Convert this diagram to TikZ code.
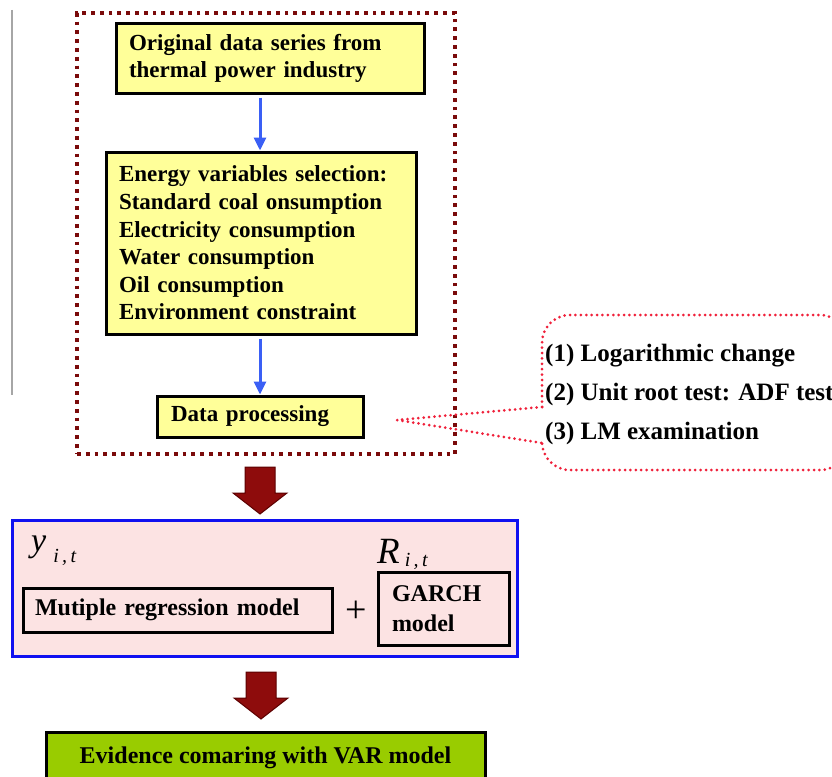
\documentclass[tikz,border=0pt]{standalone}
\usepackage{fontspec}
\setmainfont{Liberation Serif}
\usetikzlibrary{arrows.meta,calc}
\definecolor{boxyellow}{HTML}{FFFF99}
\definecolor{framered}{HTML}{7A0A0A}
\definecolor{calloutred}{HTML}{F0203A}
\definecolor{flowblue}{HTML}{3A5FF5}
\definecolor{pinkfill}{HTML}{FCE3E3}
\definecolor{modelblue}{HTML}{1010F0}
\definecolor{greenfill}{HTML}{99CC00}
\definecolor{blockred}{HTML}{8E0C0C}
\definecolor{blockedge}{HTML}{5C0000}
\newcommand{\blockarr}[1]{\filldraw[blockarrow] (#1) ++(-15,0) -- ++(30,0) -- ++(0,26) -- ++(12,0) -- ++(-27,21) -- ++(-27,-21) -- ++(12,0) -- cycle;}
\begin{document}
\begin{tikzpicture}[x=1pt,y=-1pt,
  ybox/.style={draw=black, line width=3pt, fill=boxyellow, font=\bfseries\fontsize{23}{27.6}\selectfont, align=left, inner ysep=0pt},
  mbox/.style={draw=black, line width=3pt, font=\bfseries\fontsize{24}{30}\selectfont, align=left, inner ysep=0pt},
  frame/.style={draw=framered, line width=3.8pt, dash pattern=on 3.8pt off 5pt, inner sep=0pt},
  callout/.style={draw=calloutred, line width=3pt, line cap=round, dash pattern=on 0pt off 5.4pt},
  flow/.style={draw=flowblue, line width=3pt, -{Triangle[length=13pt,width=12pt]}},
  blockarrow/.style={fill=blockred, draw=blockedge, line width=1pt},
  ctext/.style={font=\bfseries\fontsize{25}{39}\selectfont, align=left, inner sep=0pt}
]
\clip (0,0) rectangle (832,776);
\fill[white] (0,0) rectangle (832,776);
% thin grey line at the left
\draw[gray!70, line width=1.4pt] (12,10) -- (12,395);
% dotted frame
\node[frame, minimum width=378pt, minimum height=441pt] (frame) at (266,233.5) {};
% boxes
\node[ybox, text width=282pt, inner xsep=13pt, minimum height=69pt] (b1) at (270,58.5)
  {Original data series from\\thermal power industry};
\node[ybox, text width=284pt, inner xsep=13pt, minimum height=182pt] (b2) at (261,243)
  {Energy variables selection:\\Standard coal onsumption\\Electricity consumption\\Water consumption\\Oil consumption\\Environment constraint};
\node[ybox, text width=178pt, inner xsep=14pt, minimum height=41pt] (b3) at (260,416.5)
  {Data processing};
\draw[flow] ([yshift=-3pt]b1.south -| b3.north) -- (b2.north -| b3.north);
\draw[flow] ([yshift=-3pt]b2.south -| b3.north) -- (b3.north);
% callout
\coordinate (tip) at (397,420);
\draw[callout, rounded corners=28pt] (542,407) -- (542,315) -- (848,315) -- (848,470) -- (542,470) -- (542,443);
\draw[callout] (542,407) -- (tip) -- (542,443);
\node[ctext, anchor=west] (steps) at (545,394)
  {(1) Logarithmic change\\(2) Unit root test: ADF test\\(3) LM examination};
% first block arrow
\coordinate (a1) at (260,467);
\blockarr{a1}
% model box
\node[draw=modelblue, line width=3pt, fill=pinkfill, minimum width=505pt, minimum height=136pt, inner sep=0pt] (model) at (264.5,588) {};
\node[anchor=base west, inner sep=0pt] (ylab) at (31,551)
  {\fontsize{34}{34}\selectfont\itshape y\hspace{7pt}\raisebox{-11pt}{\fontsize{20}{20}\selectfont\itshape i\,,\,t}};
\node[anchor=base west, inner sep=0pt] (rlab) at (377,563)
  {\fontsize{37}{37}\selectfont\itshape R\hspace{5pt}\raisebox{-3pt}{\fontsize{20}{20}\selectfont\itshape i\,,\,t}};
\node[mbox, text width=285pt, inner xsep=12pt, minimum height=44pt] (mr) at (177.5,610)
  {Mutiple regression model};
\node[font=\fontsize{38}{38}\selectfont, inner sep=0pt] (plus) at (356,612) {+};
\node[mbox, text width=103pt, inner xsep=14pt, minimum height=73pt] (garch) at (443.5,608.5)
  {GARCH\\model};
% second block arrow
\coordinate (a2) at (261,672);
\blockarr{a2}
% result box
\node[draw=black, line width=3pt, fill=greenfill, minimum width=439pt, minimum height=52pt, inner sep=0pt,
  font=\bfseries\fontsize{24}{28}\selectfont] (res) at (265.5,758) {Evidence comaring with VAR model};
\end{tikzpicture}
\end{document}
